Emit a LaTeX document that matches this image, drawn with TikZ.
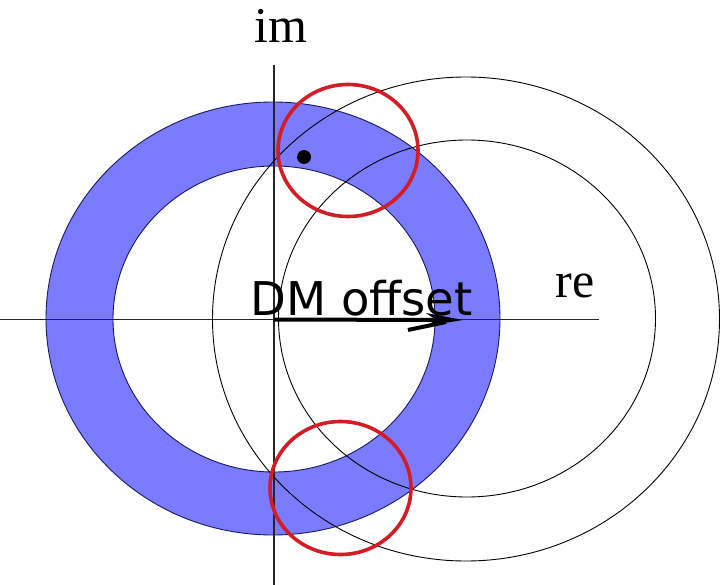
\documentclass[tikz,border=0pt]{standalone}
\usepackage{fontspec}
\newfontfamily\dejavu{DejaVu Sans}
\newfontfamily\libserif{Liberation Serif}
\definecolor{ringblue}{RGB}{123,123,255}
\definecolor{ringedge}{RGB}{25,25,90}
\definecolor{redc}{RGB}{212,28,36}
\tikzset{
  thincirc/.style={draw=black, line width=0.9pt},
  redcirc/.style={draw=redc, line width=3.6pt},
  axisline/.style={draw=black!85, line width=1.4pt},
  serlabel/.style={inner sep=0pt, font=\libserif\fontsize{50}{55}\selectfont},
  dmlabel/.style={inner sep=0pt, font=\dejavu\fontsize{46.5}{50}\selectfont}
}
\begin{document}
\begin{tikzpicture}[x=1pt,y=-1pt]
\useasboundingbox (0,0) rectangle (722,585);
% coordinates
\coordinate (O) at (274,319.5);
\coordinate (T) at (463,320);
% blue annulus
\fill[ringblue, even odd rule] (273,318.5) ellipse [x radius=227, y radius=216.5]
   (274,319) ellipse [x radius=161, y radius=153];
\draw[ringedge, line width=0.9pt] (273,318.5) ellipse [x radius=227, y radius=216.5];
\draw[ringedge, line width=0.9pt] (274,319) ellipse [x radius=161, y radius=153];
% axes
\coordinate (xl) at (0,319.5);
\coordinate (xr) at (599,319.5);
\coordinate (yt) at (274,65);
\coordinate (yb) at (274,585);
\draw[axisline] (xl) -- (xr);
\draw[axisline] (yt) -- (yb);
% shifted circles
\draw[thincirc] (466,319) ellipse [x radius=253.5, y radius=242];
\draw[thincirc] (467,318.5) ellipse [x radius=188.5, y radius=178.5];
% red circles
\draw[redcirc] (348,150.5) ellipse [x radius=70, y radius=66];
\draw[redcirc] (340.5,488) ellipse [x radius=70.5, y radius=66.5];
% dot
\fill[black] (304,157) circle [radius=7];
% arrow
\draw[black, line width=4pt] (O) -- (440,320);
\fill[black] (T) -- (426,313) -- (436,320) -- (426,326) -- cycle;
\draw[black, line width=4pt] (408,330) -- (446,322);
% labels
\node[serlabel, anchor=base] (im) at (281,43) {im};
\node[serlabel, anchor=base] (re) at (575,297) {re};
\node[dmlabel, anchor=base] (dm) at (361.5,315) {DM offset};
\end{tikzpicture}
\end{document}
